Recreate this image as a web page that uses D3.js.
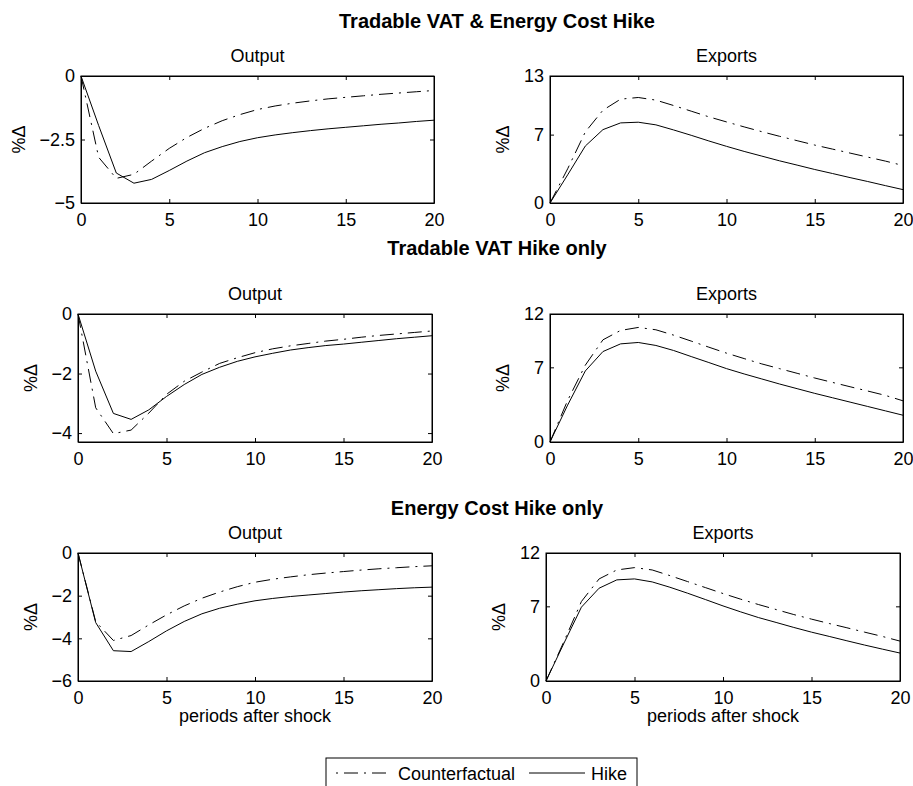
<!DOCTYPE html>
<html>
<head>
<meta charset="utf-8">
<script src="https://cdn.jsdelivr.net/npm/d3@7"></script>
<style>
  body { margin: 0; background: #fff; }
  svg { display: block; font-family: "Liberation Sans", Arial, Helvetica, sans-serif; }
</style>
</head>
<body>
<svg id="fig" width="913" height="786"></svg>
<script>
// ---- data -------------------------------------------------------------
const periods = [0, 1, 2, 3, 4, 5, 6, 7, 8, 9, 10, 11, 12, 13, 14, 15, 16, 17, 18, 19, 20];

const scenarioTitles = ["Tradable VAT & Energy Cost Hike", "Tradable VAT Hike only", "Energy Cost Hike only"];
const panelTitles = ["Output", "Exports"];
const seriesNames = ["Counterfactual", "Hike"];
const xTicks = [0, 5, 10, 15, 20];

// Scenario 1: VAT & energy cost hike
const outputCfBoth  = [0, -3.20, -4.03, -3.87, -3.35, -2.85, -2.42, -2.06, -1.76, -1.52, -1.32, -1.18, -1.07, -0.98, -0.90, -0.84, -0.78, -0.72, -0.67, -0.62, -0.57];
const outputHikeBoth = [0, -1.95, -3.82, -4.22, -4.07, -3.72, -3.35, -3.02, -2.78, -2.58, -2.43, -2.32, -2.23, -2.15, -2.08, -2.02, -1.96, -1.90, -1.85, -1.79, -1.74];
const exportsCfBoth  = [0, 3.50, 7.27, 9.50, 10.63, 10.80, 10.53, 9.98, 9.40, 8.82, 8.30, 7.79, 7.30, 6.83, 6.38, 5.93, 5.52, 5.11, 4.70, 4.29, 3.84];
const exportsHikeBoth = [0, 2.88, 5.83, 7.51, 8.20, 8.27, 8.00, 7.48, 6.93, 6.35, 5.80, 5.28, 4.80, 4.32, 3.88, 3.43, 3.02, 2.60, 2.20, 1.78, 1.37];

// Scenario 2: VAT hike only
const outputCfVat  = [0, -3.15, -4.02, -3.90, -3.33, -2.70, -2.26, -1.95, -1.66, -1.47, -1.30, -1.17, -1.07, -0.99, -0.91, -0.85, -0.78, -0.72, -0.67, -0.62, -0.57];
const outputHikeVat = [0, -1.92, -3.34, -3.54, -3.22, -2.77, -2.37, -2.03, -1.79, -1.59, -1.44, -1.32, -1.21, -1.13, -1.06, -1.01, -0.95, -0.89, -0.83, -0.78, -0.73];
const exportsCfVat  = [0, 3.90, 7.20, 9.58, 10.46, 10.74, 10.52, 10.02, 9.46, 8.89, 8.33, 7.82, 7.32, 6.88, 6.44, 6.00, 5.59, 5.18, 4.78, 4.37, 3.86];
const exportsHikeVat = [0, 3.46, 6.66, 8.48, 9.20, 9.33, 9.05, 8.58, 8.01, 7.45, 6.88, 6.38, 5.91, 5.44, 5.00, 4.56, 4.15, 3.74, 3.33, 2.92, 2.51];

// Scenario 3: energy cost hike only
const outputCfEnergy  = [0, -3.22, -4.10, -3.87, -3.37, -2.90, -2.48, -2.12, -1.83, -1.58, -1.37, -1.23, -1.12, -1.02, -0.94, -0.87, -0.80, -0.74, -0.69, -0.64, -0.60];
const outputHikeEnergy = [0, -3.26, -4.58, -4.62, -4.15, -3.65, -3.21, -2.85, -2.59, -2.40, -2.24, -2.13, -2.04, -1.97, -1.90, -1.83, -1.77, -1.72, -1.67, -1.63, -1.60];
const exportsCfEnergy  = [0, 3.65, 7.45, 9.57, 10.41, 10.63, 10.41, 9.88, 9.32, 8.76, 8.20, 7.67, 7.17, 6.70, 6.23, 5.80, 5.39, 4.99, 4.58, 4.18, 3.74];
const exportsHikeEnergy = [0, 3.49, 6.92, 8.70, 9.48, 9.57, 9.29, 8.79, 8.23, 7.64, 7.04, 6.48, 5.95, 5.49, 5.02, 4.58, 4.18, 3.77, 3.37, 2.99, 2.62];

// y-axis limits and ticks per panel
const outputLimits = [[-5, 0], [-4.3, 0], [-6, 0]];
const outputTicks  = [[-5, -2.5, 0], [-4, -2, 0], [-6, -4, -2, 0]];
const exportsLimits = [[0, 13], [0, 12], [0, 12]];
const exportsTicks  = [[0, 7, 13], [0, 7, 12], [0, 7, 12]];

// ---- layout -----------------------------------------------------------
const rowTop    = [76, 314, 553];
const rowBottom = [203, 442, 681];
const colExtent = [
  [[81, 434], [550, 903]],
  [[78, 432], [550, 903]],
  [[78, 432], [546, 900]]
];
const yLabelX = [[19, 503], [31, 503], [31, 499]];
const titleBaseline = [28, 255, 515];
const titleCenterX = 497;

const FONT = 18;
const TICK = 4;
const DASHDOT = "14,6,2,6";

const svg = d3.select("#fig");

const panelSeries = [
  [[outputCfBoth, outputHikeBoth], [exportsCfBoth, exportsHikeBoth]],
  [[outputCfVat, outputHikeVat], [exportsCfVat, exportsHikeVat]],
  [[outputCfEnergy, outputHikeEnergy], [exportsCfEnergy, exportsHikeEnergy]]
];

const fmt = d3.format("~g");

function drawPanel(r, c) {
  const [x0, x1] = colExtent[r][c];
  const top = rowTop[r], bottom = rowBottom[r];
  const lim = c === 0 ? outputLimits[r] : exportsLimits[r];
  const ticks = c === 0 ? outputTicks[r] : exportsTicks[r];

  const x = d3.scaleLinear().domain([0, 20]).range([x0, x1]);
  const y = d3.scaleLinear().domain(lim).range([bottom, top]);

  const g = svg.append("g");

  // curves
  const line = d3.line()
    .x((d, i) => x(periods[i]))
    .y(d => y(d));
  const [cf, hike] = panelSeries[r][c];
  g.append("path").datum(cf).attr("d", line)
    .attr("fill", "none").attr("stroke", "#000").attr("stroke-width", 1)
    .attr("stroke-dasharray", DASHDOT);
  g.append("path").datum(hike).attr("d", line)
    .attr("fill", "none").attr("stroke", "#000").attr("stroke-width", 1);

  // axes with inward ticks on all four sides
  const ax = (a) => a.tickSizeInner(-TICK).tickSizeOuter(0);
  g.append("g").attr("transform", `translate(0,${bottom})`)
    .call(ax(d3.axisBottom(x).tickValues(xTicks).tickFormat(fmt).tickPadding(10)));
  g.append("g").attr("transform", `translate(0,${top})`)
    .call(ax(d3.axisTop(x).tickValues(xTicks).tickFormat("")));
  g.append("g").attr("transform", `translate(${x0},0)`)
    .call(ax(d3.axisLeft(y).tickValues(ticks).tickFormat(fmt).tickPadding(6)));
  g.append("g").attr("transform", `translate(${x1},0)`)
    .call(ax(d3.axisRight(y).tickValues(ticks).tickFormat("")));

  g.selectAll(".tick text").attr("font-size", FONT).attr("fill", "#000")
    .attr("font-family", "Liberation Sans, Arial, Helvetica, sans-serif");
  g.selectAll(".domain, .tick line").attr("stroke", "#000");

  g.append("rect")
    .attr("x", x0).attr("y", top).attr("width", x1 - x0).attr("height", bottom - top)
    .attr("fill", "none").attr("stroke", "#000").attr("stroke-width", 1);

  // subplot title
  g.append("text")
    .attr("x", (x0 + x1) / 2).attr("y", top - 14)
    .attr("text-anchor", "middle").attr("font-size", FONT)
    .text(panelTitles[c]);

  // y label
  g.append("text")
    .attr("transform", `translate(${yLabelX[r][c]},${(top + bottom) / 2}) rotate(-90)`)
    .attr("dy", "0.35em")
    .attr("text-anchor", "middle").attr("font-size", FONT)
    .text("%Δ");

  // x label on the bottom row
  if (r === 2) {
    g.append("text")
      .attr("x", (x0 + x1) / 2).attr("y", bottom + 41)
      .attr("text-anchor", "middle").attr("font-size", FONT)
      .text("periods after shock");
  }
}

for (let r = 0; r < 3; r++) {
  svg.append("text")
    .attr("x", titleCenterX).attr("y", titleBaseline[r])
    .attr("text-anchor", "middle").attr("font-size", 20).attr("font-weight", "bold")
    .text(scenarioTitles[r]);
  for (let c = 0; c < 2; c++) drawPanel(r, c);
}

// legend
const legend = svg.append("g");
legend.append("rect")
  .attr("x", 326).attr("y", 758).attr("width", 311).attr("height", 40)
  .attr("fill", "#fff").attr("stroke", "#000").attr("stroke-width", 1);
const legendItems = [
  { name: seriesNames[0], dash: DASHDOT, offset: 20, x: 336 },
  { name: seriesNames[1], dash: null, offset: 0, x: 529 }
];
legendItems.forEach(it => {
  legend.append("line")
    .attr("x1", it.x).attr("x2", it.x + 56).attr("y1", 773).attr("y2", 773)
    .attr("stroke", "#000").attr("stroke-width", 1)
    .attr("stroke-dasharray", it.dash)
    .attr("stroke-dashoffset", it.offset);
  legend.append("text")
    .attr("x", it.x + 62).attr("y", 780)
    .attr("font-size", FONT)
    .text(it.name);
});
</script>
</body>
</html>
